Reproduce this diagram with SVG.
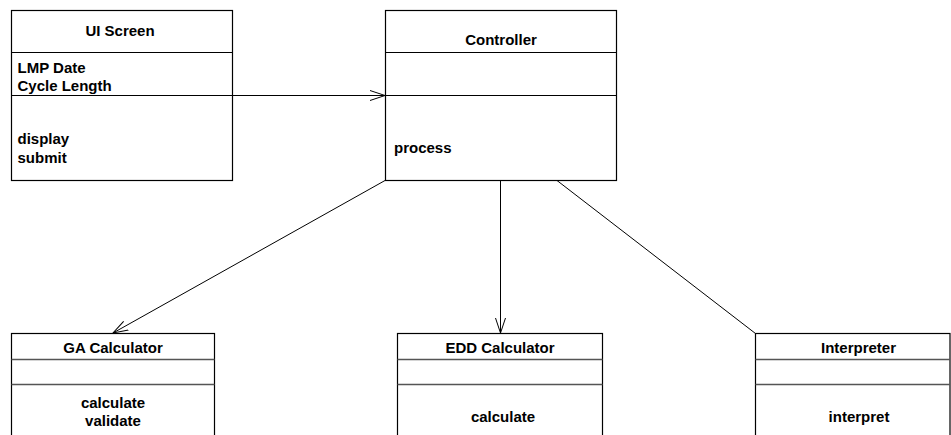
<svg xmlns="http://www.w3.org/2000/svg" width="951" height="435" viewBox="0 0 951 435">
<style>
  .box { fill: #ffffff; stroke: #000000; stroke-width: 1.2; }
  .div { stroke: #000000; stroke-width: 1; fill: none; }
  .div2 { stroke: #555555; stroke-width: 1.3; fill: none; }
  .conn { stroke: #000000; stroke-width: 1; fill: none; }
  text { font-family: "Liberation Sans", Arial, sans-serif; font-size: 15px; font-weight: bold; fill: #000000; }
  .c { text-anchor: middle; }
</style>
<defs>
  <marker id="open" viewBox="0 0 16 12" refX="15" refY="6" markerWidth="16" markerHeight="12" markerUnits="userSpaceOnUse" orient="auto">
    <path d="M0,1 L15,6 L0,11" fill="none" stroke="#000000" stroke-width="1"/>
  </marker>
</defs>
<rect width="951" height="435" fill="#ffffff"/>
<g id="connectors">
  <line class="conn" x1="232" y1="95.5" x2="385" y2="95.5" marker-end="url(#open)"/>
  <line class="conn" x1="385" y1="180.5" x2="113" y2="333" marker-end="url(#open)"/>
  <line class="conn" x1="500.5" y1="180.5" x2="500.5" y2="333" marker-end="url(#open)"/>
  <line class="conn" x1="557" y1="180.5" x2="755.5" y2="333.5"/>
</g>
<g id="ui-screen">
  <rect class="box" x="11.5" y="10.5" width="221" height="170"/>
  <line class="div" x1="11.5" y1="52.5" x2="232.5" y2="52.5"/>
  <line class="div" x1="11.5" y1="95.5" x2="232.5" y2="95.5"/>
  <text class="c" x="120" y="36">UI Screen</text>
  <text x="17.5" y="73">LMP Date</text>
  <text x="17.5" y="91">Cycle Length</text>
  <text x="17.5" y="144">display</text>
  <text x="17.5" y="163">submit</text>
</g>
<g id="controller">
  <rect class="box" x="385.5" y="10.5" width="231" height="170"/>
  <line class="div" x1="385.5" y1="52.5" x2="616.5" y2="52.5"/>
  <line class="div" x1="385.5" y1="95.5" x2="616.5" y2="95.5"/>
  <text class="c" x="501" y="45">Controller</text>
  <text x="394" y="153">process</text>
</g>
<g id="ga-calculator">
  <rect class="box" x="11.5" y="333.5" width="203" height="120"/>
  <line class="div2" x1="11.5" y1="359.5" x2="214.5" y2="359.5"/>
  <line class="div2" x1="11.5" y1="384.5" x2="214.5" y2="384.5"/>
  <text class="c" x="113" y="353">GA Calculator</text>
  <text class="c" x="113" y="408">calculate</text>
  <text class="c" x="113" y="426">validate</text>
</g>
<g id="edd-calculator">
  <rect class="box" x="397.5" y="333.5" width="205" height="120"/>
  <line class="div2" x1="397.5" y1="359.5" x2="602.5" y2="359.5"/>
  <line class="div2" x1="397.5" y1="384.5" x2="602.5" y2="384.5"/>
  <text class="c" x="500" y="353">EDD Calculator</text>
  <text class="c" x="503" y="422">calculate</text>
</g>
<g id="interpreter">
  <rect class="box" x="755.5" y="333.5" width="194.5" height="120"/>
  <line class="div2" x1="755.5" y1="359.5" x2="950" y2="359.5"/>
  <line class="div2" x1="755.5" y1="384.5" x2="950" y2="384.5"/>
  <text class="c" x="858.5" y="353">Interpreter</text>
  <text class="c" x="859" y="422">interpret</text>
</g>
</svg>
